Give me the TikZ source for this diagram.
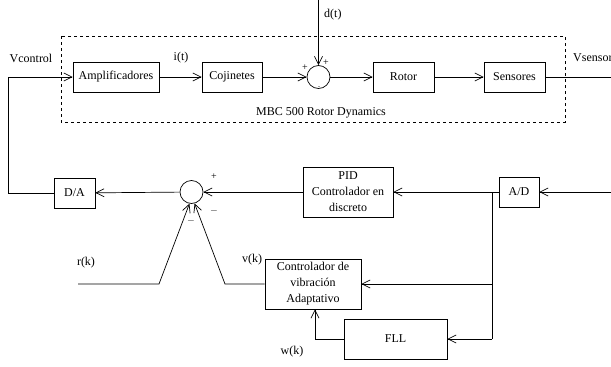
\documentclass[tikz,border=0pt]{standalone}
\usepackage{fontspec}
\setmainfont{Liberation Serif}
\usepackage{tikz}
\usetikzlibrary{arrows.meta,positioning,calc}
\tikzset{
  blk/.style={draw, line width=0.7pt, inner sep=0pt, align=center, font=\fontsize{12}{16}\selectfont},
  sumnode/.style={draw, line width=0.7pt, circle, minimum size=23pt, inner sep=0pt},
  flow/.style={line width=0.7pt, -{Straight Barb[length=8pt, width=8pt]}},
  wire/.style={line width=0.7pt},
  lbl/.style={font=\fontsize{12}{14}\selectfont, inner sep=0pt},
  sgn/.style={font=\fontsize{10}{10}\selectfont, inner sep=0pt}
}
\begin{document}
\begin{tikzpicture}[x=1pt, y=-1pt]
\useasboundingbox (0,0) rectangle (611,367);

% --- Plant: MBC 500 rotor dynamics ---
\draw[dashed, line width=0.7pt] (61,36) rectangle (565,122);
\node[lbl] (plantname) at (321,113) {MBC 500 Rotor Dynamics};

\node[blk, minimum width=86pt, minimum height=30pt] (amp) at (116,77) {Amplificadores};
\node[blk, minimum width=60pt, minimum height=30pt] (coj) at (232,77) {Cojinetes};
\node[sumnode] (sumA) at (318.5,77) {};
\node[blk, minimum width=61pt, minimum height=30pt] (rotor) at (403.5,77) {Rotor};
\node[blk, minimum width=61pt, minimum height=30pt] (sens) at (514.5,77) {Sensores};

\coordinate (dtop) at (318.5,0);
\coordinate (vout) at (611,77);

\draw[flow] (amp) -- (coj);
\draw[flow] (coj) -- (sumA);
\draw[flow] (dtop) -- (sumA);
\draw[flow] (sumA) -- (rotor);
\draw[flow] (rotor) -- (sens);
\draw[wire] (sens) -- (vout);

\node[lbl] (it) at (181,58) {i(t)};
\node[lbl, anchor=west] (dt) at (324,15) {d(t)};
\node[lbl, anchor=west] (vsen) at (573,58) {Vsensor};
\node[lbl] (vctl) at (31,58) {Vcontrol};
\node[sgn] at (305,68) {+};
\node[sgn] at (326,63) {+};
\node[sgn, font=\fontsize{6}{6}\selectfont] at (319,88) {-};

% --- Digital control loop ---
\node[blk, minimum width=41pt, minimum height=30pt] (da) at (74.5,193) {D/A};
\node[sumnode] (sumB) at (191.5,192) {};
\node[blk, minimum width=90pt, minimum height=50pt] (pid) at (348,192) {PID\\Controlador en\\discreto};
\node[blk, minimum width=40pt, minimum height=30pt] (ad) at (519,192) {A/D};
\node[blk, minimum width=96pt, minimum height=50pt] (avc) at (313,284) {Controlador de\\vibración\\Adaptativo};
\node[blk, minimum width=103pt, minimum height=40pt] (fll) at (395.5,339) {FLL};

\coordinate (vin) at (611,192);
\coordinate (tap) at (492,192);
\coordinate (ret) at (8,193);
\coordinate (rk) at (78,284);
\coordinate (rkb) at (159,284);
\coordinate (vkb) at (225,284);
\coordinate (wkb) at (315,339);

\draw[flow] (vin) -- (ad);
\draw[flow] (ad) -- (pid);
\draw[flow] (pid) -- (sumB);
\draw[flow] (sumB) -- (da);
\draw[flow] (da.west) -- (ret) |- (amp.west);
\draw[wire] (tap) -- (tap |- fll.east);
\draw[flow] (tap |- fll.east) -- (fll.east);
\draw[flow] (tap |- avc.east) -- (avc.east);
\draw[flow] (fll.west) -- (wkb) -- (wkb |- avc.south);
\draw[flow] (rk) -- (rkb) -- (sumB.-100);
\draw[flow] (avc.west) -- (vkb) -- (sumB.-75);

\node[lbl] (rklbl) at (86,263) {r(k)};
\node[lbl] (vklbl) at (252,260) {v(k)};
\node[lbl] (wklbl) at (292,352) {w(k)};
\node[sgn] at (214,177) {+};
\node[sgn] at (214,211) {$-$};
\node[sgn] at (191,221) {$-$};

\end{tikzpicture}
\end{document}
